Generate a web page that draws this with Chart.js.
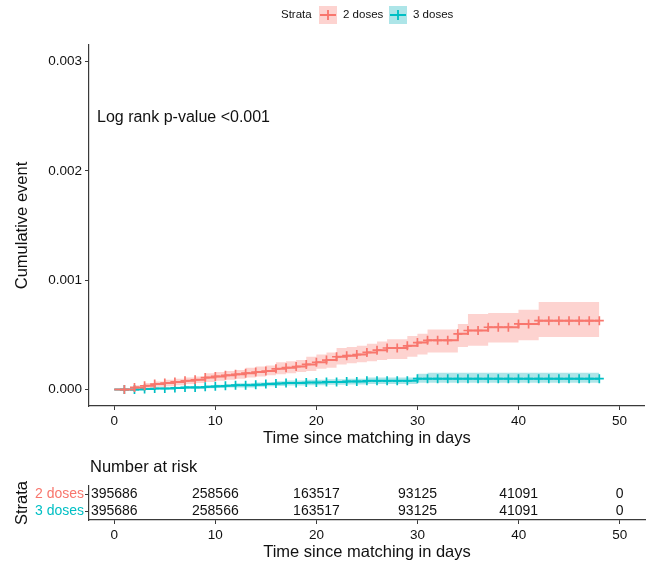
<!DOCTYPE html>
<html>
<head>
<meta charset="utf-8">
<script src="https://cdn.jsdelivr.net/npm/chart.js@4/dist/chart.umd.min.js"></script>
<style>
  html, body { margin: 0; padding: 0; background: #fff; }
  #wrap { position: relative; width: 651px; height: 566px; }
  #main { position: absolute; left: 0; top: 0; }
  #risk { position: absolute; left: 0; top: 450px; }
</style>
</head>
<body>
<div id="wrap">
  <canvas id="main" width="651" height="450"></canvas>
  <canvas id="risk" width="651" height="116"></canvas>
</div>
<script>
// ---- data ----
const strata = ['2 doses', '3 doses'];
const days = [0,1,2,3,4,5,6,7,8,9,10,11,12,13,14,15,16,17,18,19,20,21,22,23,24,25,26,27,28,29,30,31,32,33,34,35,36,37,38,39,40,41,42,43,44,45,46,47,48];

// cumulative event, 2 doses
const est2 = [0,0,0.00002,0.000035,0.00005,0.00006,0.00007,0.00008,0.00009,0.00011,
  0.00012,0.00013,0.00014,0.00015,0.00016,0.00017,0.00019,0.0002,0.00021,0.00023,
  0.00025,0.00027,0.0003,0.00031,0.00032,0.00034,0.00036,0.00038,0.00038,0.0004,
  0.00043,0.00045,0.00045,0.00045,0.00051,0.00054,0.00054,0.00057,0.00057,0.00057,
  0.0006,0.0006,0.00063,0.00063,0.00063,0.00063,0.00063,0.00063,0.00063];
const lower2 = [0,0,0.000005,0.000015,0.000025,0.00003,0.00004,0.00005,0.00006,0.00007,
  0.00008,0.00009,0.0001,0.00011,0.00012,0.00013,0.00014,0.00015,0.00016,0.00017,
  0.00019,0.0002,0.00023,0.00024,0.00025,0.00026,0.00027,0.00028,0.00028,0.0003,
  0.00032,0.00034,0.00034,0.00034,0.00039,0.0004,0.0004,0.00043,0.00043,0.00043,
  0.00045,0.00045,0.00048,0.00048,0.00048,0.00048,0.00048,0.00048,0.00048];
const upper2 = [0,0,0.00004,0.00006,0.000075,0.00009,0.0001,0.00011,0.00012,0.00015,
  0.00016,0.00017,0.00018,0.0002,0.00021,0.00022,0.00025,0.00026,0.00027,0.0003,
  0.00032,0.00034,0.00038,0.00039,0.0004,0.00042,0.00044,0.00046,0.00046,0.00049,
  0.00051,0.00055,0.00055,0.00055,0.0006,0.00069,0.00069,0.0007,0.0007,0.0007,
  0.00073,0.00073,0.0008,0.0008,0.0008,0.0008,0.0008,0.0008,0.0008];

// cumulative event, 3 doses
const est3 = [0,0,0,0.000005,0.00001,0.00001,0.000015,0.00002,0.00002,0.000025,
  0.00003,0.000035,0.00004,0.00004,0.000045,0.00005,0.000055,0.00006,0.00006,0.000065,
  0.000065,0.00007,0.00007,0.000075,0.000075,0.00008,0.00008,0.00008,0.00008,0.00008,
  0.0001,0.0001,0.0001,0.0001,0.0001,0.0001,0.0001,0.0001,0.0001,0.0001,
  0.0001,0.0001,0.0001,0.0001,0.0001,0.0001,0.0001,0.0001,0.0001];
const lower3 = [0,0,0,0,0.000003,0.000003,0.000006,0.00001,0.00001,0.000012,
  0.000015,0.000018,0.00002,0.00002,0.000025,0.00003,0.000033,0.000037,0.000037,0.00004,
  0.00004,0.000044,0.000044,0.000047,0.000047,0.00005,0.00005,0.00005,0.00005,0.00005,
  0.000062,0.000062,0.000062,0.000062,0.000062,0.000062,0.000062,0.000062,0.000062,0.000062,
  0.000062,0.000062,0.000062,0.000062,0.000062,0.000062,0.000062,0.000062,0.000062];
const upper3 = [0,0,0,0.00001,0.00002,0.00002,0.000025,0.000032,0.000032,0.00004,
  0.000045,0.00005,0.000058,0.000058,0.000065,0.00007,0.000077,0.000082,0.000082,0.00009,
  0.00009,0.000095,0.000095,0.0001,0.0001,0.00011,0.00011,0.00011,0.00011,0.00011,
  0.000145,0.000155,0.000155,0.000155,0.000155,0.000155,0.000155,0.000155,0.000155,0.000155,
  0.000155,0.000155,0.000155,0.000155,0.000155,0.000155,0.000155,0.000155,0.000155];

const xTicks = [0, 10, 20, 30, 40, 50];
const yTicks = [0, 0.001, 0.002, 0.003];

// number at risk
const riskTimes = [0, 10, 20, 30, 40, 50];
const risk2 = [395686, 258566, 163517, 93125, 41091, 0];
const risk3 = [395686, 258566, 163517, 93125, 41091, 0];

// ---- styling ----
const FONT = "'Liberation Sans', Arial, Helvetica, sans-serif";
const RED = '#F8766D', TEAL = '#00BFC4';
const RED_BAND = 'rgba(248,118,109,0.32)', TEAL_BAND = 'rgba(0,175,185,0.32)';
const AXIS = '#3a3a3a';
const TXT = '#111';

Chart.defaults.font.family = FONT;
Chart.defaults.color = TXT;

const pts = (ys) => days.map((d, i) => ({ x: d, y: ys[i] }));

function bandSet(label, ys, color, fill) {
  return { label, data: pts(ys), stepped: true, borderWidth: 0, borderColor: 'rgba(0,0,0,0)',
    pointRadius: 0, backgroundColor: color, fill, order: 2 };
}
function curveSet(label, ys, color) {
  return { label, data: pts(ys), stepped: true, borderColor: color, borderWidth: 2,
    pointStyle: 'cross', pointRadius: (c) => (c.dataIndex === 0 ? 0 : 4.5),
    pointBorderColor: color, pointBorderWidth: 1.7, pointHoverRadius: 0,
    fill: false, order: 0 };
}

// axis titles, annotation and legend for the survival panel
const mainText = {
  id: 'mainText',
  afterDraw(chart) {
    const { ctx, chartArea: a } = chart;
    ctx.save();
    ctx.fillStyle = TXT;
    ctx.font = '16.5px ' + FONT;
    ctx.textAlign = 'center';
    ctx.textBaseline = 'middle';
    ctx.fillText('Time since matching in days', (a.left + a.right) / 2, 438);
    ctx.save();
    ctx.translate(22, (a.top + a.bottom) / 2);
    ctx.rotate(-Math.PI / 2);
    ctx.fillText('Cumulative event', 0, 0);
    ctx.restore();
    ctx.textAlign = 'left';
    ctx.font = '16px ' + FONT;
    ctx.fillText('Log rank p-value <0.001', 97, 118);

    // legend
    ctx.font = '11.5px ' + FONT;
    ctx.fillText('Strata', 281, 15);
    const keys = [
      { x: 319, label: strata[0], line: RED, band: RED_BAND },
      { x: 389, label: strata[1], line: TEAL, band: TEAL_BAND }
    ];
    keys.forEach(k => {
      ctx.fillStyle = k.band;
      ctx.fillRect(k.x, 6, 18, 18);
      ctx.strokeStyle = k.line;
      ctx.lineWidth = 1.8;
      ctx.beginPath();
      ctx.moveTo(k.x + 1, 15); ctx.lineTo(k.x + 17, 15);
      ctx.moveTo(k.x + 9, 10); ctx.lineTo(k.x + 9, 20);
      ctx.stroke();
      ctx.fillStyle = TXT;
      ctx.fillText(k.label, k.x + 24, 15);
    });
    ctx.restore();
  }
};

new Chart(document.getElementById('main'), {
  type: 'line',
  data: {
    datasets: [
      curveSet(strata[0], est2, RED),
      curveSet(strata[1], est3, TEAL),
      bandSet(strata[0] + ' upper', upper2, RED_BAND, '+1'),
      bandSet(strata[0] + ' lower', lower2, RED_BAND, false),
      bandSet(strata[1] + ' upper', upper3, TEAL_BAND, '+1'),
      bandSet(strata[1] + ' lower', lower3, TEAL_BAND, false)
    ]
  },
  options: {
    responsive: false, animation: false, devicePixelRatio: 1,
    layout: { padding: { left: 0, right: 6, top: 45, bottom: 0 } },
    plugins: { legend: { display: false }, tooltip: { enabled: false } },
    events: [],
    scales: {
      x: {
        type: 'linear', min: -2.5, max: 52.5,
        afterFit(s) { s.height = 44; },
        afterBuildTicks(s) { s.ticks = xTicks.map(v => ({ value: v })); },
        grid: { drawOnChartArea: false, drawTicks: true, tickLength: 4, color: AXIS, lineWidth: 1 },
        border: { display: true, color: AXIS, width: 1.2 },
        ticks: { font: { size: 13.5 }, color: TXT, padding: 3, maxRotation: 0, autoSkip: false }
      },
      y: {
        type: 'linear', min: -0.00015, max: 0.00315,
        afterFit(s) { s.width = 89; },
        afterBuildTicks(s) { s.ticks = yTicks.map(v => ({ value: v })); },
        grid: { drawOnChartArea: false, drawTicks: true, tickLength: 4, color: AXIS, lineWidth: 1 },
        border: { display: true, color: AXIS, width: 1.2 },
        ticks: { font: { size: 13.5 }, color: TXT, padding: 3, autoSkip: false, callback: v => Number(v).toFixed(3) }
      }
    }
  },
  plugins: [mainText]
});

// ---- number-at-risk table ----
const riskText = {
  id: 'riskText',
  afterDatasetsDraw(chart) {
    const { ctx, chartArea: a } = chart;
    ctx.save();
    ctx.fillStyle = TXT;
    ctx.font = '14px ' + FONT;
    ctx.textAlign = 'center';
    ctx.textBaseline = 'middle';
    chart.data.datasets.forEach((ds, di) => {
      const meta = chart.getDatasetMeta(di);
      meta.data.forEach((el, i) => {
        ctx.fillText(String(ds.data[i].n), el.x, el.y);
      });
    });
    ctx.font = '16.5px ' + FONT;
    ctx.fillText('Time since matching in days', (a.left + a.right) / 2, 102);
    ctx.textAlign = 'left';
    ctx.fillText('Number at risk', 90, 17);
    ctx.save();
    ctx.textAlign = 'center';
    ctx.font = '16.5px ' + FONT;
    ctx.translate(22, (a.top + a.bottom) / 2);
    ctx.rotate(-Math.PI / 2);
    ctx.fillText('Strata', 0, 0);
    ctx.restore();
    ctx.restore();
  }
};

new Chart(document.getElementById('risk'), {
  type: 'scatter',
  data: {
    datasets: [
      { label: strata[0], data: riskTimes.map((t, i) => ({ x: t, y: strata[0], n: risk2[i] })), pointRadius: 0 },
      { label: strata[1], data: riskTimes.map((t, i) => ({ x: t, y: strata[1], n: risk3[i] })), pointRadius: 0 }
    ]
  },
  options: {
    responsive: false, animation: false, devicePixelRatio: 1,
    layout: { padding: { left: 0, right: 6, top: 36, bottom: 0 } },
    plugins: { legend: { display: false }, tooltip: { enabled: false } },
    events: [],
    scales: {
      x: {
        type: 'linear', min: -2.5, max: 52.5,
        afterFit(s) { s.height = 46; },
        afterBuildTicks(s) { s.ticks = xTicks.map(v => ({ value: v })); },
        grid: { drawOnChartArea: false, drawTicks: true, tickLength: 4, color: AXIS, lineWidth: 1 },
        border: { display: true, color: AXIS, width: 1.2 },
        ticks: { font: { size: 13.5 }, color: TXT, padding: 3, maxRotation: 0, autoSkip: false }
      },
      y: {
        type: 'category', labels: strata, offset: true,
        afterFit(s) { s.width = 89; },
        grid: { drawOnChartArea: false, drawTicks: true, tickLength: 4, color: AXIS, lineWidth: 1, offset: false },
        border: { display: true, color: AXIS, width: 1.2 },
        ticks: { font: { size: 14 }, color: (c) => (c.index === 0 ? RED : TEAL), padding: 1, autoSkip: false }
      }
    }
  },
  plugins: [riskText]
});
</script>
</body>
</html>
